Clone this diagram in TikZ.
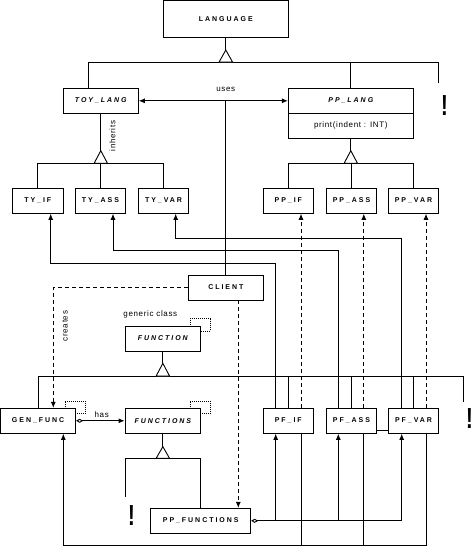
\documentclass[tikz,border=0pt]{standalone}
\usepackage{fontspec}
\setmainfont{Liberation Sans}
\newfontfamily\boxfont[LetterSpace=28]{Liberation Sans}
\newfontfamily\lblfont[LetterSpace=8]{Liberation Sans}
\usetikzlibrary{arrows.meta,calc}
\begin{document}
\begin{tikzpicture}[x=1pt,y=-1pt,line width=0.9pt,
  cls/.style={draw,fill=white,inner sep=0pt,minimum height=25pt,font=\boxfont\bfseries\fontsize{7}{8}\selectfont},
  abst/.style={cls,font=\boxfont\bfseries\itshape\fontsize{7}{8}\selectfont},
  lbl/.style={inner sep=0pt,font=\lblfont\fontsize{8}{9}\selectfont},
  excl/.style={inner sep=0pt,transform shape,xscale=0.7,font=\bfseries\fontsize{29}{29}\selectfont},
  arr/.style={-{Latex[length=6pt,width=5pt]}},
  dsh/.style={dash pattern=on 4pt off 3pt},
  dotbox/.style={dash pattern=on 1pt off 1pt},
  tri/.style={fill=white}]
\useasboundingbox (0,0) rectangle (473,547);

% dotted generic markers (behind the boxes)
\draw[dotbox] (190,318.3) rectangle (210.7,331);
\draw[dotbox] (65,401.7) rectangle (85.7,413.3);
\draw[dotbox] (190,401.7) rectangle (210.7,413.3);

% classes
\node[cls,minimum width=125pt,minimum height=36.8pt] (language) at (225.8,18.9) {LANGUAGE};
\node[abst,minimum width=75pt] (toylang) at (100.8,100.8) {TOY\_LANG};
\node[abst,minimum width=125pt] (pplang) at (350.8,100.8) {PP\_LANG};
\node[cls,minimum width=125pt,font=\lblfont\fontsize{8}{9}\selectfont] (pplangop) at (350.8,125.8) {print(indent : INT)};
\node[cls,minimum width=51pt] (tyif) at (37.8,200.8) {TY\_IF};
\node[cls,minimum width=50.4pt] (tyass) at (100.5,200.8) {TY\_ASS};
\node[cls,minimum width=50.4pt] (tyvar) at (163.5,200.8) {TY\_VAR};
\node[cls,minimum width=50pt] (ppif) at (288.3,200.8) {PP\_IF};
\node[cls,minimum width=50pt] (ppass) at (351.5,200.8) {PP\_ASS};
\node[cls,minimum width=50.4pt] (ppvar) at (413.5,200.8) {PP\_VAR};
\node[cls,minimum width=75pt] (client) at (225.8,287.5) {CLIENT};
\node[abst,minimum width=75.7pt] (function) at (162.85,338.5) {FUNCTION};
\node[cls,minimum width=75.2pt] (genfunc) at (38.1,420.8) {GEN\_FUNC};
\node[abst,minimum width=75.7pt] (functions) at (162.85,420.8) {FUNCTIONS};
\node[cls,minimum width=50pt] (pfif) at (288.3,420.8) {PF\_IF};
\node[cls,minimum width=50pt] (pfass) at (351.5,420.8) {PF\_ASS};
\node[cls,minimum width=50.4pt] (pfvar) at (413.5,420.8) {PF\_VAR};
\node[cls,minimum width=100pt] (ppfunctions) at (200.7,520.8) {PP\_FUNCTIONS};

% labels
\node[lbl] (useslbl) at (225.8,89.5) {uses};
\node[lbl,rotate=90] (inhlbl) at (112.5,136) {inherits};
\node[lbl,rotate=90] (crlbl) at (65,326) {creates};
\node[lbl] (genlbl) at (150.3,314) {generic class};
\node[lbl] (haslbl) at (101.7,415) {has};

% exclamation marks
\node[excl] (ex1) at (444.5,106) {!};
\node[excl] (ex2) at (469.6,419) {!};
\node[excl] (ex3) at (131.5,515.5) {!};

% LANGUAGE inheritance
\coordinate (langapex) at (225.8,50);
\coordinate (langbar) at (225.8,62);
\coordinate (langstub) at (438,62);
\coordinate (langstubend) at (438,83.3);
\draw (language.south) -- (langapex);
\draw ([xshift=-12.5pt]toylang.north) |- (langstub) -- (langstubend);
\draw (pplang.north) -- (pplang.north |- langbar);
\draw[tri] (langapex) -- ++(-6.7,12) -- ++(13.4,0) -- cycle;

% uses
\draw[{Latex[length=6pt,width=5pt]}-{Latex[length=6pt,width=5pt]}] (toylang.east) -- (pplang.west);
\draw (client.north) -- (client.north |- toylang.east);

% TOY_LANG inheritance
\coordinate (toyapex) at (100.8,150.7);
\coordinate (toybar) at (100.8,163.3);
\draw (toylang.south) -- (toyapex);
\draw (tyif.north) |- (toybar) -| (tyvar.north);
\draw (tyass.north) -- (tyass.north |- toybar);
\draw[tri] (toyapex) -- ++(-6.7,12.6) -- ++(13.4,0) -- cycle;

% PP_LANG inheritance
\coordinate (ppapex) at (350.8,150.7);
\coordinate (ppbar) at (350.8,163.3);
\draw (pplangop.south) -- (ppapex);
\draw (ppif.north) |- (ppbar) -| (ppvar.north);
\draw (ppass.north) -- (ppass.north |- ppbar);
\draw[tri] (ppapex) -- ++(-6.7,12.6) -- ++(13.4,0) -- cycle;

% PF -> TY associations
\coordinate (a1) at (275.7,263.3); \coordinate (b1) at (50.7,263.3);
\coordinate (a2) at (338.3,250);   \coordinate (b2) at (113,250);
\coordinate (a3) at (401.7,238.3); \coordinate (b3) at (175.7,238.3);
\draw[arr] (pfif.north -| a1) -- (a1) -- (b1) -- (tyif.south -| b1);
\draw[arr] (pfass.north -| a2) -- (a2) -- (b2) -- (tyass.south -| b2);
\draw[arr] (pfvar.north -| a3) -- (a3) -- (b3) -- (tyvar.south -| b3);

% PF -> PP dashed
\coordinate (d1) at (301,0); \coordinate (d2) at (363.8,0); \coordinate (d3) at (426,0);
\draw[arr,dsh] (pfif.north -| d1) -- (ppif.south -| d1);
\draw[arr,dsh] (pfass.north -| d2) -- (ppass.south -| d2);
\draw[arr,dsh] (pfvar.north -| d3) -- (ppvar.south -| d3);

% FUNCTION inheritance
\coordinate (fapex) at (162.85,363.3);
\coordinate (fbar) at (162.85,376);
\coordinate (fstub) at (463.3,376);
\coordinate (fstubend) at (463.3,401.7);
\draw (function.south) -- (fapex);
\draw (genfunc.north) |- (fstub) -- (fstubend);
\draw (pfif.north) -- (pfif.north |- fbar);
\draw (pfass.north) -- (pfass.north |- fbar);
\draw (pfvar.north) -- (pfvar.north |- fbar);
\draw[tri] (fapex) -- ++(-6.7,12.7) -- ++(13.4,0) -- cycle;

% creates
\coordinate (cr) at (53.3,0);
\draw[arr,dsh] (client.west) -| (cr |- genfunc.north);

% client -> PP_FUNCTIONS
\coordinate (cd) at (238.3,0);
\draw[arr,dsh] (client.south -| cd) -- (ppfunctions.north -| cd);

% has
\draw[{Diamond[open,length=7pt,width=4pt]}-{Latex[length=6pt,width=5pt]}] (genfunc.east) -- (functions.west);

% FUNCTIONS inheritance
\coordinate (fsapex) at (162.85,446.7);
\coordinate (fsbar) at (162.85,458.3);
\coordinate (fsstub) at (125,496.7);
\draw (functions.south) -- (fsapex);
\draw (fsstub) |- (fsbar) -| (ppfunctions.north);
\draw[tri] (fsapex) -- ++(-6.7,11.6) -- ++(13.4,0) -- cycle;

% PP_FUNCTIONS aggregation
\draw[{Diamond[open,length=7pt,width=4pt]}-] (ppfunctions.east) -- (ppfunctions.east -| a3);
\draw[arr] (ppfunctions.east -| a1) -- (pfif.south -| a1);
\draw[arr] (ppfunctions.east -| a2) -- (pfass.south -| a2);
\draw[arr] (ppfunctions.east -| a3) -- (pfvar.south -| a3);

% bottom line back to GEN_FUNC
\coordinate (gencorner) at (63.3,545.7);
\draw[arr] (pfvar.south -| d3) |- (gencorner) -- (genfunc.south -| gencorner);
\draw (pfif.south -| d1) -- (d1 |- gencorner);
\draw (pfass.south -| d2) -- (d2 |- gencorner);

% short link between PF_ASS and PF_VAR
\coordinate (sl) at (0,430);
\draw (pfass.east |- sl) -- (pfvar.west |- sl);
\end{tikzpicture}
\end{document}
